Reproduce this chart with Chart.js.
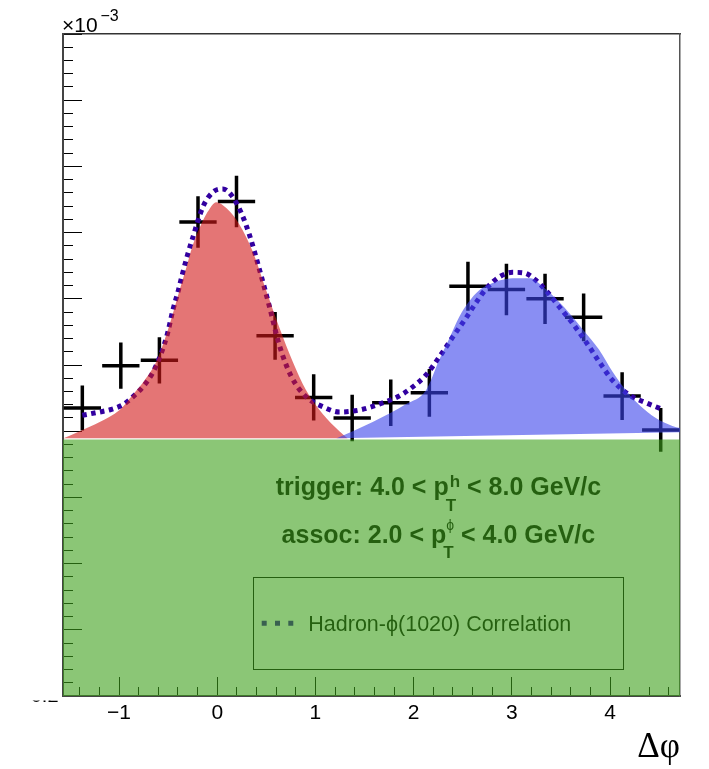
<!DOCTYPE html>
<html>
<head>
<meta charset="utf-8">
<script src="https://cdn.jsdelivr.net/npm/chart.js@4"></script>
<style>
  html, body { margin: 0; padding: 0; background: #fff; }
  #wrap { position: relative; width: 709px; height: 769px; }
</style>
</head>
<body>
<div id="wrap"><canvas id="chart1"></canvas></div>
<script>
const xMin = -Math.PI / 2;
const xMax = 3 * Math.PI / 2;

// per-bin yield (x10^-3) vs delta phi, with statistical errors
const binCenters = [-1.374, -0.982, -0.589, -0.196, 0.196, 0.589, 0.982, 1.374,
                    1.767, 2.160, 2.553, 2.945, 3.338, 3.731, 4.123, 4.516];
const yields = [0.635, 0.699, 0.707, 0.916, 0.947, 0.744, 0.651, 0.620,
                0.643, 0.658, 0.819, 0.814, 0.800, 0.772, 0.653, 0.602];
const yieldErrors = [0.034, 0.035, 0.035, 0.039, 0.039, 0.036, 0.035, 0.035,
                     0.035, 0.036, 0.037, 0.039, 0.038, 0.036, 0.036, 0.033];
const binHalfWidth = 0.19;

// total fit
const fitX = [-1.374, -1.197, -1.078, -0.960, -0.859, -0.757, -0.655, -0.570, -0.506, -0.452,
              -0.401, -0.350, -0.299, -0.248, -0.146, -0.045, 0.057, 0.142, 0.244, 0.329,
              0.430, 0.532, 0.634, 0.753, 0.905, 1.074, 1.244, 1.448, 1.651, 1.837,
              1.974, 2.126, 2.261, 2.397, 2.533, 2.635, 2.737, 2.872, 3.007, 3.126,
              3.245, 3.363, 3.482, 3.618, 3.754, 3.889, 4.024, 4.194, 4.364, 4.516];
const fitY = [0.624, 0.629, 0.633, 0.640, 0.652, 0.667, 0.689, 0.718, 0.748, 0.783,
              0.810, 0.840, 0.868, 0.893, 0.939, 0.961, 0.966, 0.957, 0.930, 0.896,
              0.844, 0.788, 0.729, 0.683, 0.652, 0.637, 0.629, 0.632, 0.641, 0.652,
              0.665, 0.685, 0.712, 0.742, 0.771, 0.794, 0.815, 0.833, 0.840, 0.839,
              0.828, 0.810, 0.788, 0.763, 0.735, 0.705, 0.677, 0.655, 0.643, 0.634];

// near-side peak
const nearX = [-1.5708, -1.401, -1.197, -0.994, -0.859, -0.740, -0.621, -0.536, -0.465, -0.384,
               -0.315, -0.251, -0.180, -0.099, -0.010, 0.092, 0.227, 0.362, 0.498, 0.634,
               0.769, 0.905, 1.074, 1.244, 1.329];
const nearY = [0.589, 0.600, 0.614, 0.632, 0.655, 0.677, 0.705, 0.738, 0.771, 0.813,
               0.847, 0.880, 0.907, 0.931, 0.946, 0.937, 0.912, 0.871, 0.813, 0.756,
               0.705, 0.662, 0.626, 0.600, 0.589];
const nearBase = 0.5893;

// away-side peak and its (slightly tilted) base
const awayX = [1.211, 1.583, 1.923, 2.126, 2.261, 2.363, 2.465, 2.549, 2.668, 2.804,
               2.940, 3.075, 3.194, 3.279, 3.449, 3.617, 3.726, 3.889, 4.024, 4.161,
               4.296, 4.466, 4.635, 4.805, 4.998];
const awayY = [0.589, 0.614, 0.641, 0.662, 0.708, 0.740, 0.773, 0.793, 0.813, 0.824,
               0.830, 0.831, 0.831, 0.823, 0.800, 0.773, 0.753, 0.723, 0.690, 0.662,
               0.640, 0.620, 0.608, 0.602, 0.599];
const awayBaseX = [1.211, 4.998];
const awayBaseY = [0.5893, 0.5992];

// flat pedestal
const pedestalX = [xMin, 4.733];
const pedestalY = [0.5875, 0.5875];

const xMajorTicks = [-1, 0, 1, 2, 3, 4];
const yMajorTicks = [0.2, 0.3, 0.4, 0.5, 0.6, 0.7, 0.8, 0.9, 1.0, 1.1, 1.2];

const xMinorTicks = [];
for (let k = -7; k <= 23; k++) xMinorTicks.push(Math.round(k * 20) / 100);
const yMinorTicks = [];
for (let k = 10; k <= 60; k++) yMinorTicks.push(Math.round(k * 2) / 100);

const fitColor = 'rgb(50,0,160)';
const sans = "'Liberation Sans', Arial, sans-serif";

Chart.defaults.font.family = sans;
Chart.defaults.color = '#000';

const pts = (xs, ys) => xs.map((x, i) => ({x: x, y: ys[i]}));

// error bars as broken line segments
const vBars = [];
const hBars = [];
binCenters.forEach((x, i) => {
  vBars.push({x: x, y: yields[i] - yieldErrors[i]}, {x: x, y: yields[i] + yieldErrors[i]}, {x: x, y: null});
  hBars.push({x: x - binHalfWidth, y: yields[i]}, {x: x + binHalfWidth, y: yields[i]}, {x: x, y: null});
});

function drawRange(ctx, cx, base, pre, sup, sub, post, supFont, supDy, supDx, subDy, subDx) {
  const mainFont = 'bold 25px ' + sans;
  const subFont = 'bold 17px ' + sans;
  ctx.font = mainFont;
  const wPre = ctx.measureText(pre).width;
  const wPost = ctx.measureText(post).width;
  ctx.font = supFont;
  const wSup = ctx.measureText(sup).width + supDx;
  ctx.font = subFont;
  const wSub = ctx.measureText(sub).width + subDx;
  const block = Math.max(wSup, wSub);
  let x = cx - (wPre + block + wPost) / 2;
  ctx.font = mainFont;
  ctx.fillText(pre, x, base);
  x += wPre;
  ctx.font = supFont;
  ctx.fillText(sup, x + supDx, base + supDy);
  ctx.font = subFont;
  ctx.fillText(sub, x + subDx, base + subDy);
  ctx.font = mainFont;
  ctx.fillText(post, x + block, base);
}

const annotations = {
  id: 'annotations',
  beforeDatasetsDraw(chart) {
    const ctx = chart.ctx;
    ctx.save();
    ctx.fillStyle = '#000';
    ctx.textBaseline = 'alphabetic';
    ctx.textAlign = 'left';
    drawRange(ctx, 438.4, 495, 'trigger: 4.0 < p', 'h', 'T', ' < 8.0 GeV/c',
              'bold 17px ' + sans, -8, 1, 16, -3);
    drawRange(ctx, 438.4, 543.3, 'assoc: 2.0 < p', '\u03d5', 'T', ' < 4.0 GeV/c',
              '14px ' + sans, -13, 0, 15, -3);

    // legend box
    ctx.strokeStyle = '#000';
    ctx.lineWidth = 1;
    ctx.strokeRect(253.5, 577.5, 370, 92);
    ctx.save();
    ctx.strokeStyle = fitColor;
    ctx.lineWidth = 5;
    ctx.setLineDash([5, 8.3]);
    ctx.beginPath();
    ctx.moveTo(261.7, 623.3);
    ctx.lineTo(296, 623.3);
    ctx.stroke();
    ctx.restore();
    ctx.font = '21.5px ' + sans;
    ctx.fillText('Hadron-\u03d5(1020) Correlation', 308.3, 631);
    ctx.restore();
  },
  afterDraw(chart) {
    const ctx = chart.ctx;
    ctx.save();
    ctx.fillStyle = '#000';
    ctx.textBaseline = 'alphabetic';
    ctx.textAlign = 'left';
    ctx.font = '21px ' + sans;
    ctx.fillText('\u00d710', 62, 31.5);
    ctx.font = '16px ' + sans;
    ctx.fillText('\u22123', 100.5, 21);

    // lowest y label, mostly hidden
    ctx.beginPath();
    ctx.rect(0, 700.5, 62, 20);
    ctx.clip();
    ctx.font = '20px ' + sans;
    ctx.textAlign = 'right';
    ctx.textBaseline = 'middle';
    ctx.fillText('0.2', 58.5, 696);
    ctx.restore();
  }
};

const lineDefaults = {showLine: true, pointRadius: 0, pointHoverRadius: 0, pointHitRadius: 0};

new Chart(document.getElementById('chart1'), {
  type: 'scatter',
  data: {
    datasets: [
      Object.assign({}, lineDefaults, {
        label: 'pedestal',
        data: pts(pedestalX, pedestalY),
        borderWidth: 0,
        backgroundColor: 'rgba(62,160,27,0.6)',
        fill: 'start',
        clip: false,
        order: 0
      }),
      Object.assign({}, lineDefaults, {
        label: 'away side',
        data: pts(awayX, awayY),
        borderWidth: 0,
        backgroundColor: 'rgba(58,67,235,0.6)',
        cubicInterpolationMode: 'monotone',
        fill: '+1',
        clip: false,
        order: 1
      }),
      Object.assign({}, lineDefaults, {
        label: 'away base',
        data: pts(awayBaseX, awayBaseY),
        borderWidth: 0,
        borderColor: 'rgba(0,0,0,0)',
        fill: false,
        clip: false,
        order: 1
      }),
      Object.assign({}, lineDefaults, {
        label: 'near side',
        data: pts(nearX, nearY),
        borderWidth: 0,
        backgroundColor: 'rgba(210,25,25,0.6)',
        cubicInterpolationMode: 'monotone',
        fill: {value: nearBase},
        order: 2
      }),
      Object.assign({}, lineDefaults, {
        label: 'Hadron-\u03d5(1020) Correlation',
        data: pts(fitX, fitY),
        borderColor: fitColor,
        borderWidth: 5,
        borderDash: [4.5, 4.5],
        borderCapStyle: 'butt',
        cubicInterpolationMode: 'monotone',
        fill: false,
        order: 3
      }),
      Object.assign({}, lineDefaults, {
        label: 'errors',
        data: vBars,
        borderColor: '#000',
        borderWidth: 3.5,
        spanGaps: false,
        fill: false,
        order: 4
      }),
      Object.assign({}, lineDefaults, {
        label: 'bins',
        data: hBars,
        borderColor: '#000',
        borderWidth: 3.5,
        spanGaps: false,
        fill: false,
        order: 4
      })
    ]
  },
  options: {
    responsive: true,
    maintainAspectRatio: false,
    animation: false,
    devicePixelRatio: 1,
    events: [],
    layout: {padding: {top: 34, right: 29, bottom: 0, left: 0}},
    plugins: {legend: {display: false}, tooltip: {enabled: false}},
    scales: {
      x: {
        type: 'linear', position: 'bottom', min: xMin, max: xMax, weight: 1,
        afterBuildTicks: s => { s.ticks = xMajorTicks.map(v => ({value: v})); },
        afterFit: s => { s.height = 73; },
        ticks: {
          padding: 24,
          font: {size: 21},
          color: '#000',
          maxRotation: 0,
          callback: v => (v < 0 ? '\u2212' + (-v) : String(v))
        },
        grid: {drawOnChartArea: false, tickLength: -19, tickColor: '#000', tickWidth: 1},
        border: {color: '#444', width: 2},
        title: {
          display: true, text: '\u0394\u03c6', align: 'end', color: '#000',
          font: {family: "'Liberation Serif', 'Times New Roman', serif", size: 35},
          padding: {top: 0, bottom: 0}
        }
      },
      xMinor: {
        type: 'linear', position: 'bottom', min: xMin, max: xMax, weight: 0,
        afterBuildTicks: s => { s.ticks = xMinorTicks.map(v => ({value: v})); },
        afterFit: s => { s.height = 0; },
        ticks: {display: false},
        grid: {drawOnChartArea: false, tickLength: -9, tickColor: '#000', tickWidth: 1},
        border: {display: false}
      },
      xTop: {
        type: 'linear', position: 'top', min: xMin, max: xMax,
        afterFit: s => { s.height = 0; },
        ticks: {display: false},
        grid: {display: false},
        border: {color: '#333', width: 1.5}
      },
      y: {
        type: 'linear', position: 'left', min: 0.2, max: 1.2, weight: 1,
        afterBuildTicks: s => { s.ticks = yMajorTicks.map(v => ({value: v})); },
        afterFit: s => { s.width = 63; },
        ticks: {display: false},
        grid: {drawOnChartArea: false, tickLength: -19, tickColor: '#000', tickWidth: 1},
        border: {color: '#444', width: 2}
      },
      yMinor: {
        type: 'linear', position: 'left', min: 0.2, max: 1.2, weight: 0,
        afterBuildTicks: s => { s.ticks = yMinorTicks.map(v => ({value: v})); },
        afterFit: s => { s.width = 0; },
        ticks: {display: false},
        grid: {drawOnChartArea: false, tickLength: -10, tickColor: '#000', tickWidth: 1},
        border: {display: false}
      },
      yRight: {
        type: 'linear', position: 'right', min: 0.2, max: 1.2,
        afterFit: s => { s.width = 0; },
        ticks: {display: false},
        grid: {display: false},
        border: {color: '#555', width: 1.5}
      }
    }
  },
  plugins: [annotations]
});
</script>
</body>
</html>
